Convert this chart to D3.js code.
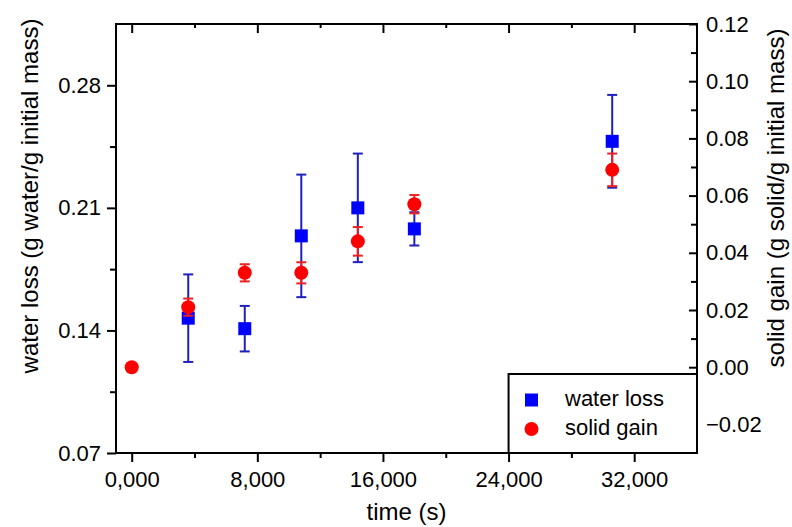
<!DOCTYPE html>
<html>
<head>
<meta charset="utf-8">
<script src="https://cdn.jsdelivr.net/npm/d3@7"></script>
<style>
  html, body { margin: 0; padding: 0; background: #ffffff; }
  svg { display: block; font-family: "Liberation Sans", Arial, sans-serif; }
</style>
</head>
<body>
<div id="chart"></div>
<script>
// Water loss (left axis) and solid gain (right axis) against time.

const waterTimes = [3600, 7200, 10800, 14400, 18000, 30600];
const waterLoss = [0.147, 0.141, 0.194, 0.210, 0.198, 0.248];
const waterErr = [0.025, 0.013, 0.035, 0.031, 0.0095, 0.0265];

const solidTimes = [0, 3600, 7200, 10800, 14400, 18000, 30600];
const solidGain = [0.000, 0.021, 0.033, 0.033, 0.044, 0.057, 0.069];
const solidErr = [0, 0.003, 0.003, 0.0037, 0.005, 0.0032, 0.0057];

const xTicks = [0, 8000, 16000, 24000, 32000];
const xTickLabels = ["0,000", "8,000", "16,000", "24,000", "32,000"];
const xMinor = [4000, 12000, 20000, 28000];
const leftTicks = [0.07, 0.14, 0.21, 0.28];
const leftMinor = [0.105, 0.175, 0.245];
const rightTicks = [-0.02, 0.00, 0.02, 0.04, 0.06, 0.08, 0.10, 0.12];
const rightMinor = [-0.01, 0.01, 0.03, 0.05, 0.07, 0.09, 0.11];

const BLUE = "#0000ff";
const BLUE_BAR = "#2020c0";
const RED = "#ff0000";
const RED_BAR = "#ee2020";

const width = 792;
const height = 527;
const plotLeft = 116, plotRight = 697, plotTop = 24, plotBottom = 453;

const x = d3.scaleLinear().domain([-1000, 36000]).range([plotLeft, plotRight]);
const yL = d3.scaleLinear().domain([0.07, 0.315]).range([plotBottom, plotTop]);
const yR = d3.scaleLinear().domain([-0.03, 0.12]).range([plotBottom, plotTop]);

const svg = d3.select("#chart").append("svg")
  .attr("width", width)
  .attr("height", height);

// ---- axes ----
function styleAxis(g) {
  g.selectAll(".domain").remove();
  g.selectAll("line").attr("stroke", "#000").attr("stroke-width", 2);
  g.selectAll("text").attr("fill", "#000").attr("font-size", 22);
}

svg.append("g")
  .attr("transform", `translate(0,${plotBottom})`)
  .call(d3.axisBottom(x).tickValues(xTicks).tickSize(9).tickPadding(9)
    .tickFormat((d, i) => xTickLabels[i]))
  .call(styleAxis);
svg.append("g")
  .attr("transform", `translate(0,${plotBottom})`)
  .call(d3.axisBottom(x).tickValues(xMinor).tickSize(5).tickFormat(""))
  .call(styleAxis);

// top: inward mirror ticks
svg.append("g")
  .attr("transform", `translate(0,${plotTop})`)
  .call(d3.axisBottom(x).tickValues(xTicks).tickSize(9).tickFormat(""))
  .call(styleAxis);
svg.append("g")
  .attr("transform", `translate(0,${plotTop})`)
  .call(d3.axisBottom(x).tickValues(xMinor).tickSize(4).tickFormat(""))
  .call(styleAxis);

svg.append("g")
  .attr("transform", `translate(${plotLeft},0)`)
  .call(d3.axisLeft(yL).tickValues(leftTicks).tickSize(9).tickPadding(6)
    .tickFormat(d3.format(".2f")))
  .call(styleAxis);
svg.append("g")
  .attr("transform", `translate(${plotLeft},0)`)
  .call(d3.axisLeft(yL).tickValues(leftMinor).tickSize(6).tickFormat(""))
  .call(styleAxis);

// right: ticks point into the plot
const rightAxis = svg.append("g")
  .attr("transform", `translate(${plotRight},0)`)
  .call(d3.axisLeft(yR).tickValues(rightTicks).tickSize(8)
    .tickFormat(d3.format(".2f")))
  .call(styleAxis);
rightAxis.selectAll("text")
  .attr("x", 9)
  .attr("text-anchor", "start");
svg.append("g")
  .attr("transform", `translate(${plotRight},0)`)
  .call(d3.axisLeft(yR).tickValues(rightMinor).tickSize(6).tickFormat(""))
  .call(styleAxis);

// frame
svg.append("rect")
  .attr("x", plotLeft).attr("y", plotTop)
  .attr("width", plotRight - plotLeft).attr("height", plotBottom - plotTop)
  .attr("fill", "none")
  .attr("stroke", "#000")
  .attr("stroke-width", 2);

// ---- axis titles ----
svg.append("text")
  .attr("x", (plotLeft + plotRight) / 2)
  .attr("y", 520)
  .attr("text-anchor", "middle")
  .attr("font-size", 24)
  .text("time (s)");

svg.append("text")
  .attr("transform", "translate(38,196) rotate(-90)")
  .attr("text-anchor", "middle")
  .attr("font-size", 24)
  .text("water loss (g water/g initial mass)");

svg.append("text")
  .attr("transform", "translate(784,198) rotate(-90)")
  .attr("text-anchor", "middle")
  .attr("font-size", 24)
  .text("solid gain (g solid/g initial mass)");

// ---- error bars + markers ----
function errorBars(times, values, errs, yScale, color) {
  const g = svg.append("g")
    .attr("stroke", color)
    .attr("stroke-width", 2)
    .attr("fill", "none");
  times.forEach((t, i) => {
    if (!errs[i]) return;
    const cx = x(t);
    const y1 = yScale(values[i] + errs[i]);
    const y2 = yScale(values[i] - errs[i]);
    g.append("line").attr("x1", cx).attr("x2", cx).attr("y1", y1).attr("y2", y2);
    g.append("line").attr("x1", cx - 5).attr("x2", cx + 5).attr("y1", y1).attr("y2", y1);
    g.append("line").attr("x1", cx - 5).attr("x2", cx + 5).attr("y1", y2).attr("y2", y2);
  });
}

errorBars(waterTimes, waterLoss, waterErr, yL, BLUE_BAR);
svg.append("g").selectAll("rect")
  .data(waterTimes)
  .join("rect")
  .attr("x", (d) => x(d) - 6.5)
  .attr("y", (d, i) => yL(waterLoss[i]) - 6.5)
  .attr("width", 13)
  .attr("height", 13)
  .attr("fill", BLUE);

errorBars(solidTimes, solidGain, solidErr, yR, RED_BAR);
svg.append("g").selectAll("circle")
  .data(solidTimes)
  .join("circle")
  .attr("cx", (d) => x(d))
  .attr("cy", (d, i) => yR(solidGain[i]))
  .attr("r", 7)
  .attr("fill", RED);

// ---- legend ----
const legendLeft = x(24000);
const legendTop = 374;
svg.append("rect")
  .attr("x", legendLeft).attr("y", legendTop)
  .attr("width", plotRight - legendLeft).attr("height", plotBottom - legendTop)
  .attr("fill", "#ffffff")
  .attr("stroke", "#000")
  .attr("stroke-width", 2);

svg.append("rect")
  .attr("x", 525).attr("y", 393.5)
  .attr("width", 13).attr("height", 13)
  .attr("fill", BLUE);
svg.append("circle")
  .attr("cx", 531.5).attr("cy", 429)
  .attr("r", 7)
  .attr("fill", RED);
svg.append("text")
  .attr("x", 565).attr("y", 406)
  .attr("font-size", 22)
  .text("water loss");
svg.append("text")
  .attr("x", 565).attr("y", 435)
  .attr("font-size", 22)
  .text("solid gain");
</script>
</body>
</html>
